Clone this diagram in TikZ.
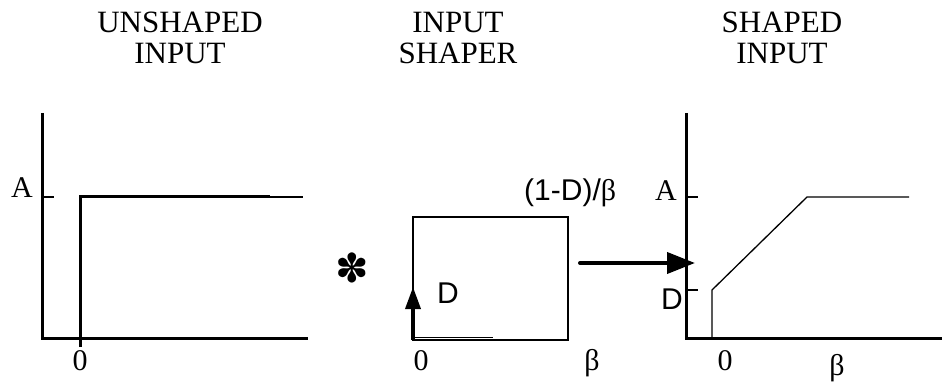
\documentclass[tikz,border=0pt]{standalone}
\usepackage{fontspec}
\setmainfont{Liberation Serif}
\newfontfamily\sansf{Liberation Sans}
\newfontfamily\dingf{DejaVu Sans}
\usepackage{tikz}
\usetikzlibrary{arrows.meta, positioning}

\begin{document}
\begin{tikzpicture}[
    x=1pt, y=1pt,
    axis/.style={line width=3pt},
    signal/.style={line width=1.3pt},
    title/.style={align=center, anchor=north, inner sep=0pt, font=\fontsize{31}{31}\selectfont},
    lbl/.style={inner sep=0pt, font=\fontsize{30}{30}\selectfont},
    slbl/.style={inner sep=0pt, font=\sansf\fontsize{30}{30}\selectfont},
    bigarrow/.style={-{Triangle[length=28pt,width=21pt]}, line width=4pt, line cap=round}
]
    \useasboundingbox (0,0) rectangle (942,383);

    % titles
    \node[title] (t1) at (180,371) {UNSHAPED\\INPUT};
    \node[title] (t2) at (458,371) {INPUT\\SHAPER};
    \node[title] (t3) at (782,371) {SHAPED\\INPUT};

    % unshaped input
    \draw[axis] (42,270) -- (42,45) -- (308,45);
    \draw[signal] (42,186) -- (54,186);
    \draw[axis] (80,36) -- (80,186) -- (270,186);
    \draw[signal] (270,186) -- (303,186);
    \node[lbl, anchor=base east] (ua) at (33,185) {A};
    \node[lbl, anchor=base] (u0) at (80,13) {0};

    % convolution sign
    \node[inner sep=0pt, font=\dingf\fontsize{40}{40}\selectfont] (conv) at (352,115) {✽};

    % input shaper
    \draw[signal] (413,43) rectangle (568,166);
    \draw[line width=1pt] (413,46) -- (493,46);
    \draw[-{Triangle[length=22pt,width=15pt]}, line width=3.5pt] (413,43) -- (413,96);
    \node[slbl, anchor=base west] (sd) at (437,80) {D};
    \node[slbl, anchor=base west] (sh) at (524,182) {(1-D)/{\rmfamily β}};
    \node[lbl, anchor=base] (s0) at (421,13) {0};
    \node[lbl, anchor=base] (sb) at (592,13) {β};

    % result arrow
    \coordinate (from) at (580,120);
    \coordinate (to) at (695,120);
    \draw[bigarrow] (from) -- (to);

    % shaped input
    \draw[axis] (686,270) -- (686,45) -- (942,45);
    \draw[signal] (686,186) -- (698,186);
    \draw[signal] (686,93) -- (698,93);
    \draw[signal] (712,45) -- (712,93) -- (807,186) -- (909,186);
    \node[lbl, anchor=base east] (ra) at (677,182) {A};
    \node[slbl, anchor=base east] (rd) at (683,74) {D};
    \node[lbl, anchor=base] (r0) at (725,13) {0};
    \node[lbl, anchor=base] (rb) at (837,8) {β};
\end{tikzpicture}
\end{document}
